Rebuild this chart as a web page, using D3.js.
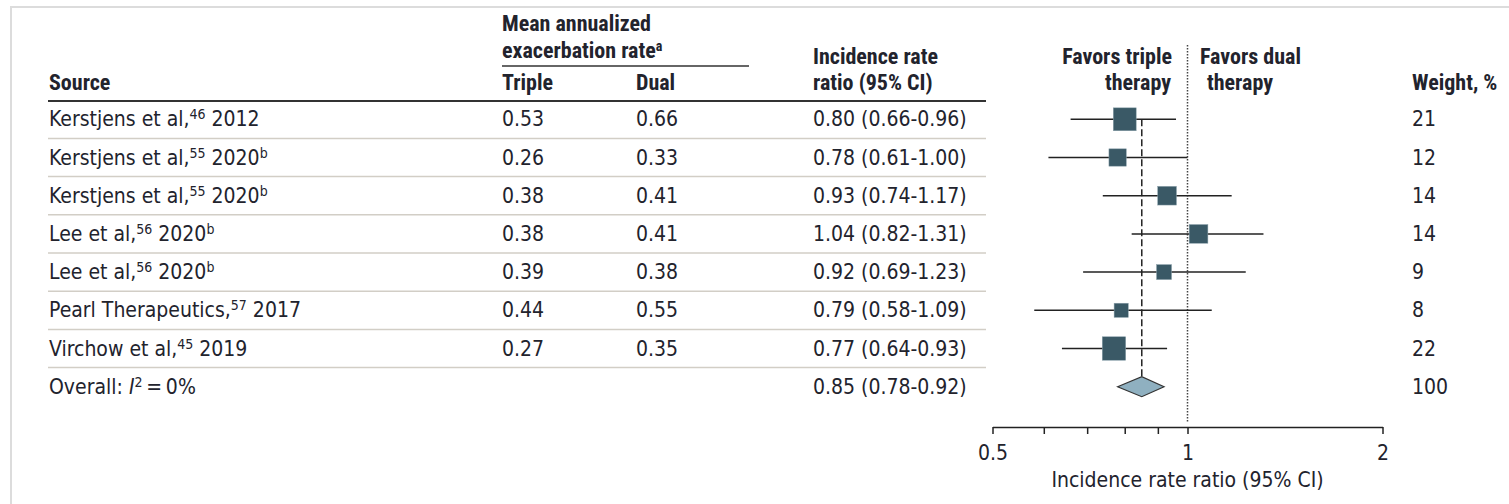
<!DOCTYPE html>
<html>
<head>
<meta charset="utf-8">
<script src="https://cdn.jsdelivr.net/npm/d3@7"></script>
<style>
  body { margin: 0; background: #fff; }
  svg text { font-family: "DejaVu Sans Condensed", "DejaVu Sans", sans-serif; fill: #22232d; }
  svg .hdr text { font-family: "Roboto Condensed", "Roboto", sans-serif; font-weight: 700; }
</style>
</head>
<body>
<div id="chart"></div>
<script>
// data
var sources = ["Kerstjens et al,", "Kerstjens et al,", "Kerstjens et al,", "Lee et al,", "Lee et al,", "Pearl Therapeutics,", "Virchow et al,"];
var refs = ["46", "55", "55", "56", "56", "57", "45"];
var years = ["2012", "2020", "2020", "2020", "2020", "2017", "2019"];
var noteB = [false, true, true, true, true, false, false];
var triple = [0.53, 0.26, 0.38, 0.38, 0.39, 0.44, 0.27];
var dual = [0.66, 0.33, 0.41, 0.41, 0.38, 0.55, 0.35];
var irr = [0.80, 0.78, 0.93, 1.04, 0.92, 0.79, 0.77];
var lower = [0.66, 0.61, 0.74, 0.82, 0.69, 0.58, 0.64];
var upper = [0.96, 1.00, 1.17, 1.31, 1.23, 1.09, 0.93];
var weights = [21, 12, 14, 14, 9, 8, 22];
var overall = [0.85, 0.78, 0.92];
var overallWeight = 100;
var tickValues = [0.5, 0.6, 0.7, 0.8, 0.9, 1, 2];
var tickLabels = ["0.5", "", "", "", "", "1", "2"];

var width = 1509, height = 504;
var fs = 21;   // body text
var hs = 22;   // header text (bold)

var svg = d3.select("#chart").append("svg")
  .attr("width", width)
  .attr("height", height);

// frame
svg.append("rect")
  .attr("x", 11).attr("y", 7)
  .attr("width", 1600).attr("height", 600)
  .attr("fill", "none")
  .attr("stroke", "#dcdcdc")
  .attr("stroke-width", 2);

var rows = d3.range(sources.length);
var y = d3.scaleLinear().domain([0, 7]).range([119.3, 119.3 + 7 * 38.2]);
var x = d3.scaleLog().domain([0.5, 2]).range([992.5, 1382.5]);

// header
var hdr = svg.append("g").attr("class", "hdr").style("font-size", hs + "px");
hdr.append("text").attr("x", 49).attr("y", 90).text("Source");
hdr.append("text").attr("x", 502).attr("y", 31).text("Mean annualized");
var ex = hdr.append("text").attr("x", 502).attr("y", 58).text("exacerbation rate");
ex.append("tspan").attr("dy", -7).style("font-size", "14px").text("a");
hdr.append("text").attr("x", 502).attr("y", 90).text("Triple");
hdr.append("text").attr("x", 636).attr("y", 90).text("Dual");
hdr.append("text").attr("x", 813).attr("y", 64).text("Incidence rate");
hdr.append("text").attr("x", 813).attr("y", 90).text("ratio (95% CI)");
hdr.append("text").attr("x", 1172).attr("y", 64).attr("text-anchor", "end").text("Favors triple");
hdr.append("text").attr("x", 1171).attr("y", 90).attr("text-anchor", "end").text("therapy");
hdr.append("text").attr("x", 1200).attr("y", 64).text("Favors dual");
hdr.append("text").attr("x", 1207).attr("y", 90).text("therapy");
hdr.append("text").attr("x", 1412).attr("y", 90).text("Weight, %");

svg.append("line").attr("x1", 502).attr("x2", 749).attr("y1", 66).attr("y2", 66)
  .attr("stroke", "#333").attr("stroke-width", 1.5);
svg.append("line").attr("x1", 48).attr("x2", 986).attr("y1", 101).attr("y2", 101)
  .attr("stroke", "#333").attr("stroke-width", 2);

// separators
svg.selectAll(".sep").data(rows).enter().append("line")
  .attr("class", "sep")
  .attr("x1", 48).attr("x2", 986)
  .attr("y1", function(d) { return y(d) + 19.1; })
  .attr("y2", function(d) { return y(d) + 19.1; })
  .attr("stroke", "#d2cec6").attr("stroke-width", 1.5);

// table text
var body = svg.append("g").style("font-size", fs + "px");
rows.forEach(function(i) {
  var by = y(i) + 7;
  var t = body.append("text").attr("x", 49).attr("y", by).text(sources[i]);
  t.append("tspan").attr("dy", -7).style("font-size", "14px").text(refs[i]);
  t.append("tspan").attr("dy", 7).text(" " + years[i]);
  if (noteB[i]) t.append("tspan").attr("dy", -7).style("font-size", "14px").text("b");
  body.append("text").attr("x", 502).attr("y", by).text(triple[i].toFixed(2));
  body.append("text").attr("x", 636).attr("y", by).text(dual[i].toFixed(2));
  body.append("text").attr("x", 813).attr("y", by)
    .text(irr[i].toFixed(2) + " (" + lower[i].toFixed(2) + "-" + upper[i].toFixed(2) + ")");
  body.append("text").attr("x", 1412).attr("y", by).text(weights[i]);
});
var oy = y(7) + 7;
var ot = body.append("text").attr("x", 49).attr("y", oy).text("Overall: ");
ot.append("tspan").style("font-style", "italic").text("I");
ot.append("tspan").attr("dy", -7).style("font-size", "14px").text("2");
ot.append("tspan").attr("dy", 7).text("\u2009=\u20090%");
body.append("text").attr("x", 813).attr("y", oy)
  .text(overall[0].toFixed(2) + " (" + overall[1].toFixed(2) + "-" + overall[2].toFixed(2) + ")");
body.append("text").attr("x", 1412).attr("y", oy).text(overallWeight);

// reference lines
svg.append("line")
  .attr("x1", x(1)).attr("x2", x(1)).attr("y1", 45).attr("y2", 423)
  .attr("stroke", "#444").attr("stroke-width", 1.5).attr("stroke-dasharray", "1.5,1.5");
svg.append("line")
  .attr("x1", x(overall[0])).attr("x2", x(overall[0])).attr("y1", y(0)).attr("y2", y(7) - 10)
  .attr("stroke", "#222").attr("stroke-width", 1.5).attr("stroke-dasharray", "7,3");

// CI lines and squares
svg.selectAll(".ci").data(rows).enter().append("line")
  .attr("class", "ci")
  .attr("x1", function(d) { return x(lower[d]); })
  .attr("x2", function(d) { return x(upper[d]); })
  .attr("y1", function(d) { return y(d); })
  .attr("y2", function(d) { return y(d); })
  .attr("stroke", "#222").attr("stroke-width", 1.5);

svg.selectAll(".box").data(rows).enter().append("rect")
  .attr("class", "box")
  .attr("x", function(d) { return x(irr[d]) - Math.sqrt(weights[d]) * 2.5; })
  .attr("y", function(d) { return y(d) - Math.sqrt(weights[d]) * 2.5; })
  .attr("width", function(d) { return Math.sqrt(weights[d]) * 5; })
  .attr("height", function(d) { return Math.sqrt(weights[d]) * 5; })
  .attr("fill", "#3a5966")
  .attr("stroke", "#8aa0aa").attr("stroke-width", 0.5);

// overall diamond
var dy7 = y(7);
svg.append("path")
  .attr("d", "M" + x(overall[1]) + "," + dy7 + "L" + x(overall[0]) + "," + (dy7 - 10) +
    "L" + x(overall[2]) + "," + dy7 + "L" + x(overall[0]) + "," + (dy7 + 10) + "Z")
  .attr("fill", "#8fb0c0").attr("stroke", "#333").attr("stroke-width", 1.2);

// axis
var axis = d3.axisBottom(x)
  .tickValues(tickValues)
  .tickSize(7)
  .tickSizeOuter(0)
  .tickPadding(11)
  .tickFormat(function(d, i) { return tickLabels[i]; });
var ax = svg.append("g").attr("transform", "translate(0,427)").call(axis);
ax.select(".domain").attr("stroke", "#222").attr("stroke-width", 1.5);
ax.selectAll(".tick line").attr("stroke", "#222").attr("stroke-width", 1.5);
ax.selectAll(".tick text").style("font-size", fs + "px").style("font-family", null).attr("fill", "#22232d");

svg.append("text").attr("x", x(1)).attr("y", 487).attr("text-anchor", "middle")
  .style("font-size", fs + "px").text("Incidence rate ratio (95% CI)");
</script>
</body>
</html>
